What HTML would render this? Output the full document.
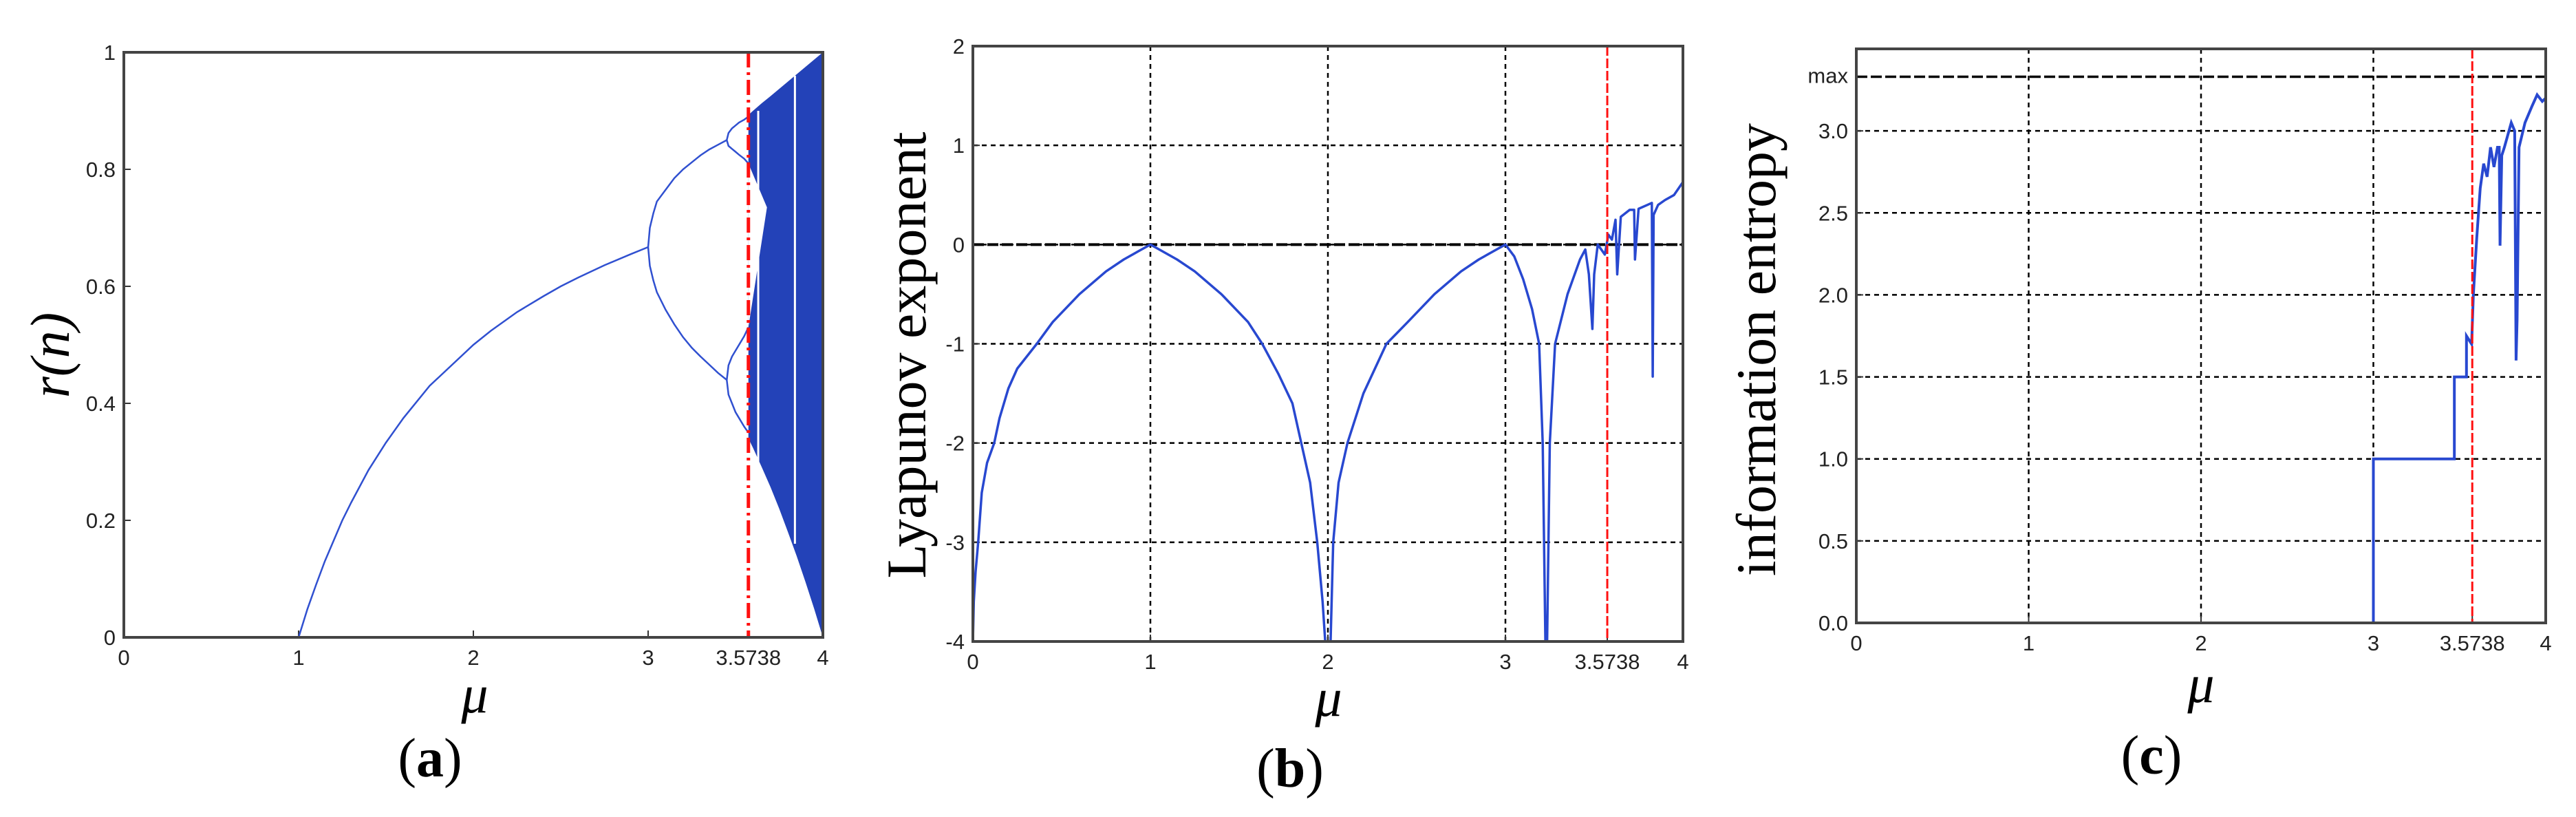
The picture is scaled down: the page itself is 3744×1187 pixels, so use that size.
<!DOCTYPE html>
<html><head><meta charset="utf-8"><style>
html,body{margin:0;padding:0;background:#fff;}
svg{display:block;}
.tk{font-family:"Liberation Sans",sans-serif;font-size:31px;fill:#222;}
.ttl{font-family:"Liberation Serif",serif;fill:#000;}
</style></head><body>
<svg id="fig" width="3744" height="1187" viewBox="0 0 3744 1187" xmlns="http://www.w3.org/2000/svg"></svg>
<script>
// ---- Panel (a) bifurcation data ----
const stableMu = [1,1.05,1.1,1.15,1.25,1.3,1.4,1.5,1.6,1.75,1.8,2,2.1,2.25,2.4,2.5,2.6,2.75,2.9,3];
const stableR  = [0,0.048,0.09,0.13,0.2,0.23,0.286,0.333,0.375,0.43,0.444,0.5,0.524,0.556,0.583,0.6,0.615,0.636,0.655,0.667];
const p2Mu = [3,3.01,3.03,3.05,3.1,3.15,3.2,3.25,3.3,3.35,3.4,3.45];
const p2Up = [0.667,0.7,0.725,0.745,0.765,0.785,0.8,0.812,0.824,0.834,0.842,0.85];
const p2Lo = [0.667,0.635,0.61,0.59,0.56,0.535,0.513,0.495,0.48,0.466,0.452,0.44];
const p4Mu = [3.45,3.46,3.48,3.5,3.52,3.55,3.5738];
const p4A = [0.85,0.862,0.87,0.875,0.88,0.885,0.89];
const p4B = [0.85,0.84,0.835,0.83,0.825,0.818,0.81];
const p4C = [0.44,0.465,0.48,0.49,0.5,0.515,0.53];
const p4D = [0.44,0.415,0.4,0.385,0.375,0.36,0.35];
const chaosMu = [3.5738,3.6,3.65,3.7,3.75,3.8,3.85,3.9,3.95,4];
const chaosUp = [0.893,0.9,0.913,0.925,0.9375,0.95,0.9625,0.975,0.9875,1];
const chaosLo = [0.34,0.324,0.291,0.257,0.22,0.18,0.139,0.095,0.049,0];
const holeMu = [3.5738,3.68,3.5738];
const holeR = [0.81,0.735,0.53];
const windowMu = [3.63,3.84];
const windowTop = [0.9,0.96];
const windowBot = [0.29,0.16];
// ---- Panel (b) Lyapunov ----
const lyMu = [0,0.005,0.015,0.03,0.05,0.08,0.12,0.15,0.2,0.25,0.36,0.45,0.6,0.75,0.85,0.95,1,1.05,1.15,1.25,1.4,1.55,1.63,1.72,1.8,1.85,1.9,1.94,1.97,1.985,2,2.015,2.03,2.06,2.11,2.2,2.33,2.45,2.6,2.75,2.85,2.95,3,3.05,3.1,3.15,3.19,3.21,3.225,3.235,3.25,3.28,3.35,3.42,3.45,3.47,3.49,3.5,3.52,3.56,3.58,3.6,3.62,3.63,3.65,3.7,3.725,3.73,3.75,3.8,3.825,3.83,3.835,3.86,3.9,3.95,4];
const lyVal = [-4,-3.6,-3.3,-3,-2.5,-2.2,-2,-1.75,-1.45,-1.25,-1,-0.78,-0.5,-0.27,-0.15,-0.05,0,-0.05,-0.15,-0.27,-0.5,-0.78,-1,-1.3,-1.6,-2,-2.4,-3,-3.6,-4,-4,-4,-3,-2.4,-2,-1.5,-1,-0.78,-0.5,-0.27,-0.15,-0.05,0,-0.12,-0.35,-0.65,-1,-2,-4,-4,-2,-1,-0.5,-0.15,-0.05,-0.3,-0.85,-0.3,0,-0.1,0.1,0.05,0.25,-0.3,0.28,0.35,0.35,-0.15,0.36,0.4,0.42,-1.33,0.3,0.4,0.45,0.5,0.63];
const lyYTicks = [2,1,0,-1,-2,-3,-4];
// ---- Panel (c) entropy ----
const enMu = [0,3,3,3.47,3.47,3.54,3.54,3.57,3.58,3.6,3.62,3.64,3.66,3.68,3.7,3.72,3.73,3.735,3.745,3.76,3.8,3.82,3.828,3.834,3.845,3.88,3.92,3.95,3.98,4];
const enVal = [0,0,1,1,1.5,1.5,1.75,1.7,2.0,2.35,2.65,2.8,2.72,2.9,2.78,2.9,2.9,2.3,2.85,2.9,3.05,3.0,1.6,1.85,2.9,3.05,3.15,3.22,3.18,3.2];
const enYTicks = [0,0.5,1,1.5,2,2.5,3];
const enYLabels = ["0.0","0.5","1.0","1.5","2.0","2.5","3.0"];
const maxEntropy = 3.33;
const xTicks = [0,1,2,3,3.5738,4];
const xTickLabels = ["0","1","2","3","3.5738","4"];
const rYTicks = [0,0.2,0.4,0.6,0.8,1];
const rYLabels = ["0","0.2","0.4","0.6","0.8","1"];
const critMu = 3.5738;

const NS="http://www.w3.org/2000/svg";
const svg=document.getElementById('fig');
function mk(tag,attrs,parent){const e=document.createElementNS(NS,tag);for(const k in attrs)e.setAttribute(k,attrs[k]);(parent||svg).appendChild(e);return e;}
function scale(d0,d1,r0,r1){return v=>r0+(v-d0)/(d1-d0)*(r1-r0);}
function pathOf(xs,ys,sx,sy){return xs.map((x,i)=>(i?'L':'M')+sx(x).toFixed(1)+','+sy(ys[i]).toFixed(1)).join('');}

function panel(cfg){
  const g=mk('g',{});
  
  
  const sx=scale(0,4,cfg.L,cfg.R), sy=scale(cfg.y0,cfg.y1,cfg.B,cfg.T);
  mk('rect',{x:cfg.L,y:cfg.T,width:cfg.R-cfg.L,height:cfg.B-cfg.T,fill:'#fff'},g);
  if(cfg.grid){
    xTicks.forEach(t=>{ if(t>0&&t<4&&t!==critMu){const l=mk('line',{x1:sx(t),x2:sx(t),y1:cfg.T,y2:cfg.B,stroke:'#000','stroke-width':2.5,'stroke-dasharray':'7,6'},g);
      }});
    cfg.yt.forEach(t=>{ if(t!==cfg.y0&&t!==cfg.y1){const l=mk('line',{x1:cfg.L,x2:cfg.R,y1:sy(t),y2:sy(t),stroke:'#000','stroke-width':2.5,'stroke-dasharray':'7,6'},g);
      }});
  }
  xTicks.forEach((t,i)=>{const tx=mk('text',{x:sx(t),y:cfg.B+40,'text-anchor':'middle',class:'tk'},g);tx.textContent=xTickLabels[i];
    
    mk('line',{x1:sx(t),x2:sx(t),y1:cfg.B,y2:cfg.B-10,stroke:'#333','stroke-width':2},g);});
  cfg.yt.forEach((t,i)=>{const tx=mk('text',{x:cfg.L-12,y:sy(t)+11,'text-anchor':'end',class:'tk'},g);tx.textContent=cfg.yl[i];
    
    mk('line',{x1:cfg.L,x2:cfg.L+10,y1:sy(t),y2:sy(t),stroke:'#333','stroke-width':2},g);});
  return {g,sx,sy};
}
function frame(g,cfg){const r=mk('rect',{x:cfg.L,y:cfg.T,width:cfg.R-cfg.L,height:cfg.B-cfg.T,fill:'none',stroke:'#444','stroke-width':4},g);
  }
function titles(g,cfg){
  const mu=mk('text',{x:cfg.muX,y:cfg.muY,'text-anchor':'middle',class:'ttl','font-size':78,'font-style':'italic'},g);mu.textContent='μ';
  
  const yl=mk('text',{x:0,y:0,'text-anchor':'middle',class:'ttl','font-size':cfg.yfs,'font-style':cfg.yit?'italic':'normal',transform:`translate(${cfg.ylX},${cfg.ylY}) rotate(-90)`},g);yl.textContent=cfg.ylabel;
  
  const cap=mk('text',{x:cfg.capX,y:cfg.capY,'text-anchor':'middle',class:'ttl','font-size':80},g);
  cap.innerHTML='(<tspan font-weight="bold">'+cfg.cap+'</tspan>)';
  
}

// ---- Panel A ----
const A={name:'panel-a-bifurcation',L:180,R:1196,T:76,B:926,y0:0,y1:1,yt:rYTicks,yl:rYLabels,grid:false,
  muX:690,muY:1035,ylX:100,ylY:516,yfs:80,yit:true,ylabel:'r(n)',capX:625,capY:1128,cap:'a'};
{
  const {g,sx,sy}=panel(A);
  const up=chaosMu.map((m,i)=>sx(m)+','+sy(chaosUp[i])).join(' ');
  const lo=chaosMu.slice().reverse().map((m,i)=>sx(m)+','+sy(chaosLo[chaosMu.length-1-i])).join(' ');
  const band=mk('polygon',{points:up+' '+lo,fill:'#2342b8'},g);
  
  const hole=mk('polygon',{points:holeMu.map((m,i)=>sx(m)+','+sy(holeR[i])).join(' '),fill:'#fff'},g);
  
  windowMu.forEach((m,i)=>{const w=mk('line',{x1:sx(m),x2:sx(m),y1:sy(windowTop[i]),y2:sy(windowBot[i]),stroke:'#fff','stroke-width':3},g);
    });
  [[stableMu,stableR,'fixed-point-branch'],[p2Mu,p2Up,'period2-upper'],[p2Mu,p2Lo,'period2-lower'],[p4Mu,p4A,'period4-a'],[p4Mu,p4B,'period4-b'],[p4Mu,p4C,'period4-c'],[p4Mu,p4D,'period4-d']].forEach(s=>{
    const p=mk('path',{d:pathOf(s[0],s[1],sx,sy),fill:'none',stroke:'#3050d0','stroke-width':2.5},g);
    });
  const cl=mk('line',{x1:sx(critMu),x2:sx(critMu),y1:A.T,y2:A.B,stroke:'#ff1010','stroke-width':5,'stroke-dasharray':'22,7,4,7'},g);
  
  frame(g,A);titles(g,A);
}
// ---- Panel B ----
const B={name:'panel-b-lyapunov',L:1414,R:2446,T:67,B:932,y0:-4,y1:2,yt:lyYTicks,yl:lyYTicks.map(String),grid:true,
  muX:1931,muY:1040,ylX:1345,ylY:516,yfs:82,yit:false,ylabel:'Lyapunov exponent',capX:1875,capY:1143,cap:'b'};
{
  const {g,sx,sy}=panel(B);
  const z=mk('line',{x1:B.L,x2:B.R,y1:sy(0),y2:sy(0),stroke:'#000','stroke-width':4,'stroke-dasharray':'16,5'},g);
  
  const p=mk('path',{d:pathOf(lyMu,lyVal,sx,sy),fill:'none',stroke:'#2848d0','stroke-width':3.5,'stroke-linejoin':'round'},g);
  
  const cl=mk('line',{x1:sx(critMu),x2:sx(critMu),y1:B.T,y2:B.B,stroke:'#ff1010','stroke-width':3,'stroke-dasharray':'14,4'},g);
  
  frame(g,B);titles(g,B);
}
// ---- Panel C ----
const C={name:'panel-c-entropy',L:2698,R:3700,T:71,B:905,y0:0,y1:3.5,yt:enYTicks,yl:enYLabels,grid:true,
  muX:3199,muY:1020,ylX:2580,ylY:508,yfs:82,yit:false,ylabel:'information entropy',capX:3127,capY:1124,cap:'c'};
{
  const {g,sx,sy}=panel(C);
  const m=mk('line',{x1:C.L,x2:C.R,y1:sy(maxEntropy),y2:sy(maxEntropy),stroke:'#000','stroke-width':3.5,'stroke-dasharray':'16,5'},g);
  
  const mt=mk('text',{x:C.L-12,y:sy(maxEntropy)+9,'text-anchor':'end',class:'tk','font-size':26},g);mt.textContent='max';
  
  const p=mk('path',{d:pathOf(enMu,enVal,sx,sy),fill:'none',stroke:'#2848d0','stroke-width':4},g);
  
  const cl=mk('line',{x1:sx(critMu),x2:sx(critMu),y1:C.T,y2:C.B,stroke:'#ff1010','stroke-width':3,'stroke-dasharray':'14,4'},g);
  
  frame(g,C);titles(g,C);
}
</script>
</body></html>
